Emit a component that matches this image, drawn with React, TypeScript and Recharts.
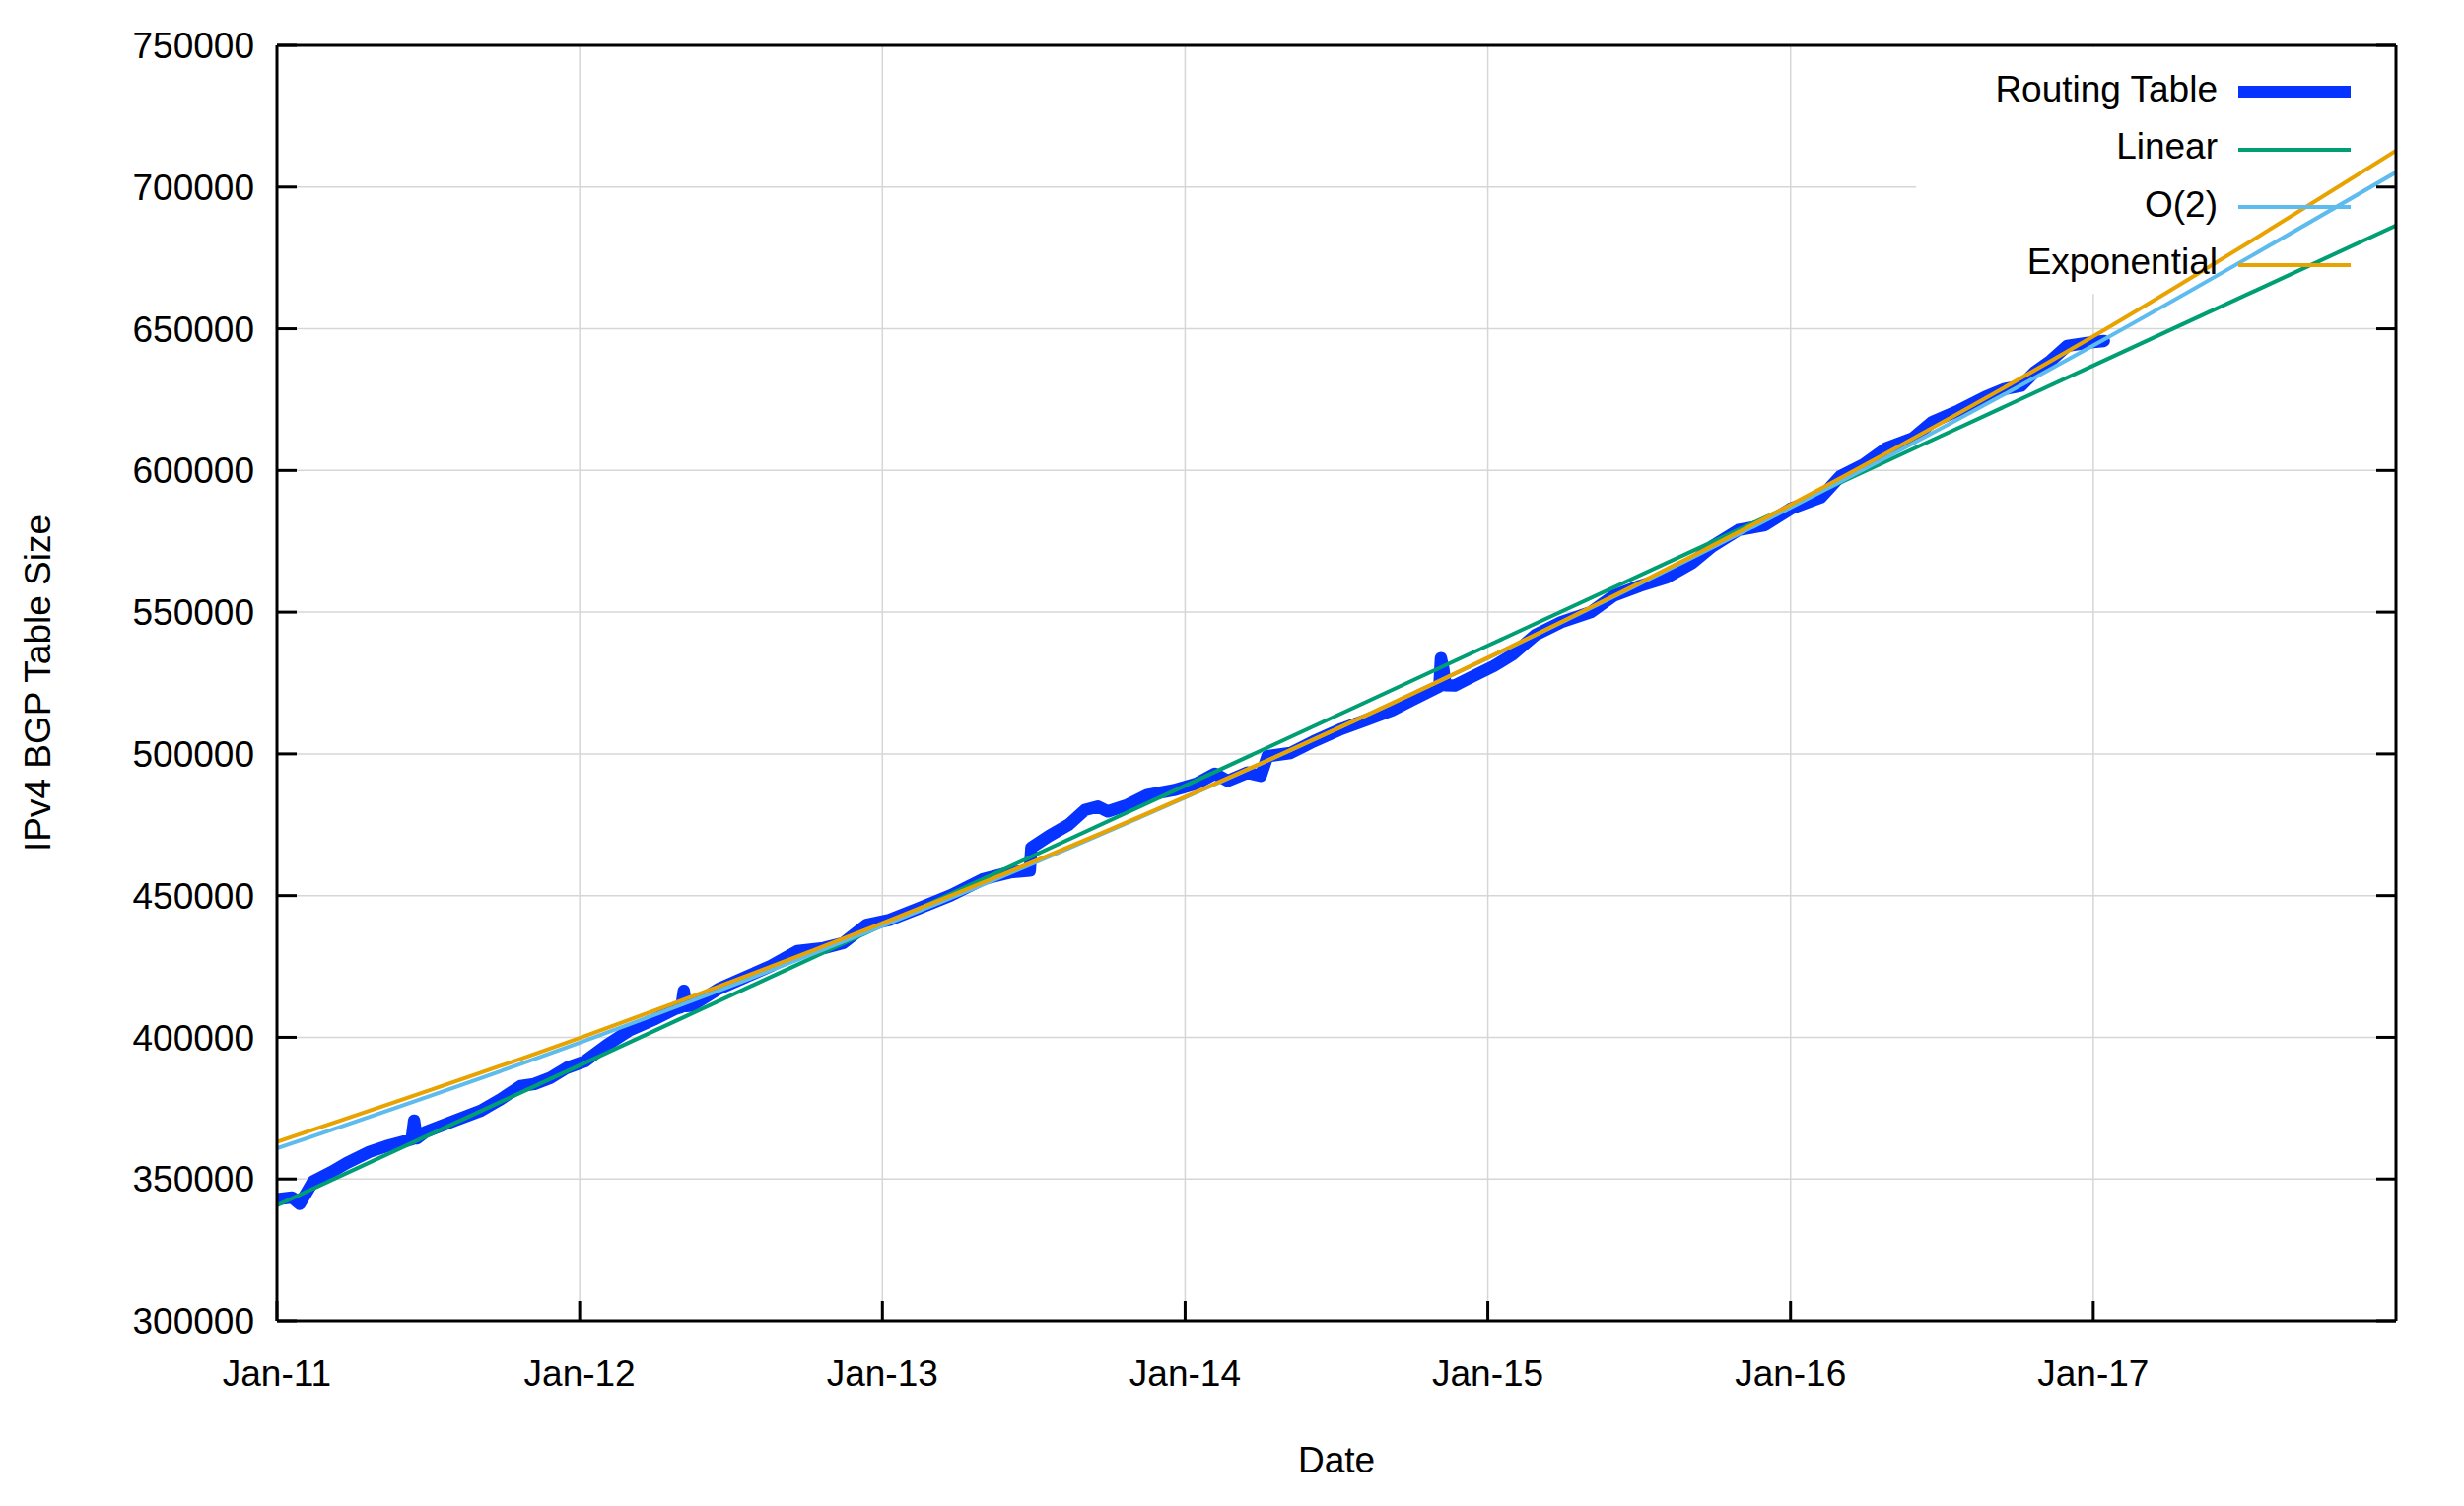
import React from "react";
import {
  LineChart,
  Line,
  XAxis,
  YAxis,
  CartesianGrid,
  ReferenceArea,
  Legend,
} from "recharts";

const FONT = '"Liberation Sans", Arial, Helvetica, sans-serif';

// x ticks (years) and y ticks
const YEAR_TICKS = [2011, 2012, 2013, 2014, 2015, 2016, 2017];
const VALUE_TICKS = [300000, 350000, 400000, 450000, 500000, 550000, 600000, 650000, 700000, 750000];

// routing table size (fraction of year, prefixes)
const tableT = [
  2011.0, 2011.05, 2011.075, 2011.1, 2011.12, 2011.18, 2011.23, 2011.306, 2011.36, 2011.415,
  2011.445, 2011.453, 2011.462, 2011.49, 2011.587, 2011.674, 2011.74, 2011.805, 2011.85, 2011.903,
  2011.957, 2012.017, 2012.09, 2012.165, 2012.252, 2012.317, 2012.336, 2012.344, 2012.352, 2012.371,
  2012.458, 2012.545, 2012.632, 2012.719, 2012.806, 2012.871, 2012.947, 2013.023, 2013.118, 2013.226,
  2013.335, 2013.422, 2013.487, 2013.492, 2013.55, 2013.615, 2013.669, 2013.712, 2013.745, 2013.81,
  2013.875, 2013.962, 2014.038, 2014.098, 2014.141, 2014.206, 2014.25, 2014.272, 2014.348, 2014.424,
  2014.51, 2014.597, 2014.684, 2014.749, 2014.814, 2014.84, 2014.845, 2014.853, 2014.86, 2014.89,
  2014.944, 2015.02, 2015.08, 2015.156, 2015.243, 2015.34, 2015.416, 2015.503, 2015.59, 2015.676,
  2015.741, 2015.828, 2015.915, 2016.002, 2016.1, 2016.165, 2016.241, 2016.317, 2016.404, 2016.469,
  2016.556, 2016.643, 2016.708, 2016.762, 2016.806, 2016.86, 2016.914, 2016.99, 2017.035,
];
const tableV = [
  342800, 343500, 341200, 345600, 349200, 352500, 355600, 359600, 361500, 363100,
  364000, 370600, 364300, 366600, 370600, 374100, 378200, 382800, 383500, 385700,
  389200, 391500, 397300, 402500, 406600, 410100, 410700, 416400, 411000, 411200,
  417000, 421100, 425200, 430400, 431500, 433300, 439700, 441400, 445400, 450100,
  455900, 458200, 458800, 466900, 471000, 475000, 480200, 481400, 479700, 482000,
  485500, 487200, 489500, 493000, 490500, 493400, 492200, 499200, 500300, 504400,
  508500, 511900, 515400, 518900, 522400, 523800, 533800, 530000, 524200, 524100,
  527000, 531000, 534900, 541900, 546500, 550000, 555800, 559300, 562200, 567400,
  573200, 579000, 580700, 586600, 590500, 598000, 602100, 607900, 611400, 617200,
  621200, 625900, 628800, 629900, 634700, 638800, 644000, 645200, 645700,
];

// fitted curves, read at each January
const fitT = [2011, 2012, 2013, 2014, 2015, 2016, 2017, 2018];
const linearV = [340700, 390100, 439500, 488800, 538200, 587600, 637000, 686400];
const quadV = [360800, 398100, 439300, 484600, 533800, 586900, 644100, 705200];
const expV = [363100, 399800, 440300, 484800, 533900, 587900, 647300, 712800];

const toPoints = (ts: number[], vs: number[]) => ts.map((t, i) => ({ t, v: vs[i] }));

const SERIES = [
  { name: "Routing Table", color: "#0633ff", width: 12.5, data: toPoints(tableT, tableV), type: "linear" },
  { name: "Linear", color: "#009e73", width: 4, data: toPoints(fitT, linearV), type: "monotone" },
  { name: "O(2)", color: "#5ebbee", width: 4, data: toPoints(fitT, quadV), type: "monotone" },
  { name: "Exponential", color: "#e8a300", width: 4, data: toPoints(fitT, expV), type: "monotone" },
];

const W = 2484;
const H = 1512;

const yearLabel = (y: number) => `Jan-${String(y).slice(2)}`;
const blank = () => "";

function KeyBox() {
  return (
    <div style={{ position: "relative", width: W, height: 300, fontFamily: FONT }}>
      {SERIES.map((s, i) => {
        const cy = 85.3 + i * 58.5;
        return (
          <React.Fragment key={s.name}>
            <div
              style={{
                position: "absolute",
                left: 0,
                width: 2242,
                top: cy + 10 - 37.8,
                height: 50,
                lineHeight: "50px",
                fontSize: 37,
                textAlign: "right",
                color: "#000",
                whiteSpace: "nowrap",
              }}
            >
              {s.name}
            </div>
            <div
              style={{
                position: "absolute",
                left: 2263,
                width: 114,
                top: cy - Math.min(s.width, 12) / 2,
                height: Math.min(s.width, 12),
                background: s.color,
              }}
            />
          </React.Fragment>
        );
      })}
    </div>
  );
}

const axisStroke = { stroke: "#000", strokeWidth: 3 };
const tickText = { fill: "#000", fontSize: 37, fontFamily: FONT };

export default function App() {
  return (
    <div style={{ width: W, height: H, fontFamily: FONT }}>
      <LineChart width={W} height={H} margin={{ top: 37, right: 60, bottom: 120, left: 173 }}>
        <CartesianGrid stroke="#d6d6d6" strokeWidth={1.5} />
        {/* opaque key background: hides the grid but not the curves */}
        <ReferenceArea x1={2016.415} x2={2017.985} y1={662300} y2={749400} fill="#fff" fillOpacity={1} stroke="none" />
        <XAxis
          dataKey="t"
          type="number"
          domain={[2011, 2018]}
          ticks={YEAR_TICKS}
          tickFormatter={yearLabel}
          allowDataOverflow
          height={60}
          tickSize={-20}
          tickMargin={60}
          axisLine={axisStroke}
          tickLine={axisStroke}
          tick={tickText}
          label={{
            value: "Date",
            content: () => (
              <text x={1348} y={1473} textAnchor="middle" dominantBaseline="central" fontSize={37} fontFamily={FONT} fill="#000">
                Date
              </text>
            ),
          }}
        />
        <XAxis
          xAxisId="top"
          orientation="top"
          type="number"
          domain={[2011, 2018]}
          ticks={YEAR_TICKS}
          allowDataOverflow
          height={1}
          tickSize={-20}
          tickMargin={0}
          tickFormatter={blank}
          axisLine={axisStroke}
          tickLine={axisStroke}
          tick={tickText}
        />
        <YAxis
          type="number"
          domain={[300000, 750000]}
          ticks={VALUE_TICKS}
          allowDataOverflow
          width={100}
          tickSize={-20}
          tickMargin={43}
          axisLine={axisStroke}
          tickLine={axisStroke}
          tick={tickText}
          label={{
            value: "IPv4 BGP Table Size",
            content: () => (
              <text
                x={30}
                y={685}
                transform="rotate(-90, 30, 685)"
                textAnchor="middle"
                dominantBaseline="central"
                fontSize={37}
                fontFamily={FONT}
                fill="#000"
              >
                IPv4 BGP Table Size
              </text>
            ),
          }}
        />
        <YAxis
          yAxisId="right"
          orientation="right"
          type="number"
          domain={[300000, 750000]}
          ticks={VALUE_TICKS}
          allowDataOverflow
          width={1}
          tickSize={-20}
          tickMargin={0}
          tickFormatter={blank}
          axisLine={axisStroke}
          tickLine={axisStroke}
          tick={tickText}
        />
        {SERIES.map((s) => (
          <Line
            key={s.name}
            name={s.name}
            data={s.data}
            dataKey="v"
            type={s.type as "linear" | "monotone"}
            stroke={s.color}
            strokeWidth={s.width}
            strokeLinejoin="round"
            strokeLinecap="round"
            dot={false}
            activeDot={false}
            isAnimationActive={false}
          />
        ))}
        <Legend
          layout="vertical"
          align="center"
          verticalAlign="middle"
          wrapperStyle={{ left: 0, top: 0, width: W, height: 300, margin: 0 }}
          content={() => <KeyBox />}
        />
      </LineChart>
    </div>
  );
}
